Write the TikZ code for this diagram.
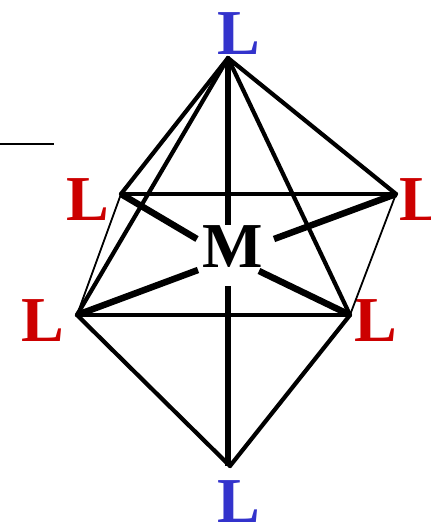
\documentclass[tikz,border=0pt]{standalone}
\usepackage{fontspec}
\setmainfont{Liberation Serif}
\definecolor{ligred}{RGB}{204,0,0}
\definecolor{ligblue}{RGB}{51,51,204}
\tikzset{
  lab/.style={anchor=base west,inner sep=0pt,outer sep=0pt,font=\fontsize{64}{64}\selectfont\bfseries},
  redlab/.style={lab,text=ligred},
  bluelab/.style={lab,text=ligblue},
  edge/.style={draw=black,line width=4.2pt,line cap=round,line join=round},
  axis/.style={draw=black,line width=5.5pt},
  bond/.style={draw=black,line width=6.5pt},
  thinedge/.style={draw=black,line width=1.8pt},
  plain/.style={draw=black,line width=2.5pt}
}
\begin{document}
\begin{tikzpicture}[x=1pt,y=-1pt]
\useasboundingbox (0,0) rectangle (431,525);
\coordinate (top) at (228,58);
\coordinate (bot) at (230,466);
\coordinate (botaxis) at (228,466);
\coordinate (bl) at (121,194);
\coordinate (br) at (396,194);
\coordinate (fl) at (77,315);
\coordinate (fr) at (350,315);
\coordinate (mt) at (228,224.5);
\coordinate (mb) at (228,286);
\coordinate (mbl) at (197,239);
\coordinate (mbr) at (274,239);
\coordinate (mfl) at (198,270);
\coordinate (mfr) at (259,271);
\coordinate (dashA) at (0,144);
\coordinate (dashB) at (54,144);
\node[bluelab] (ltop) at (217.5,54) {L};
\node[bluelab] (lbot) at (217.5,522) {L};
\node[redlab] (lbl) at (66.5,220) {L};
\node[redlab] (lbr) at (399.5,220) {L};
\node[redlab] (lfl) at (21.5,341) {L};
\node[redlab] (lfr) at (354,341) {L};
\node[lab] (metal) at (202,267) {M};
\draw[plain] (dashA) -- (dashB);
\draw[thinedge] (bl) -- (fl);
\draw[thinedge] (br) -- (fr);
\draw[edge] (bl) -- (br);
\draw[edge] (fl) -- (fr);
\draw[edge] (top) -- (bl);
\draw[edge] (top) -- (br);
\draw[edge] (top) -- (fl);
\draw[edge] (top) -- (fr);
\draw[edge] (bot) -- (fl);
\draw[edge] (bot) -- (fr);
\draw[axis] (top) -- (mt);
\draw[axis] (mb) -- (botaxis);
\draw[bond] (bl) -- (mbl);
\draw[bond] (br) -- (mbr);
\draw[bond] (fl) -- (mfl);
\draw[bond] (fr) -- (mfr);
\end{tikzpicture}
\end{document}
